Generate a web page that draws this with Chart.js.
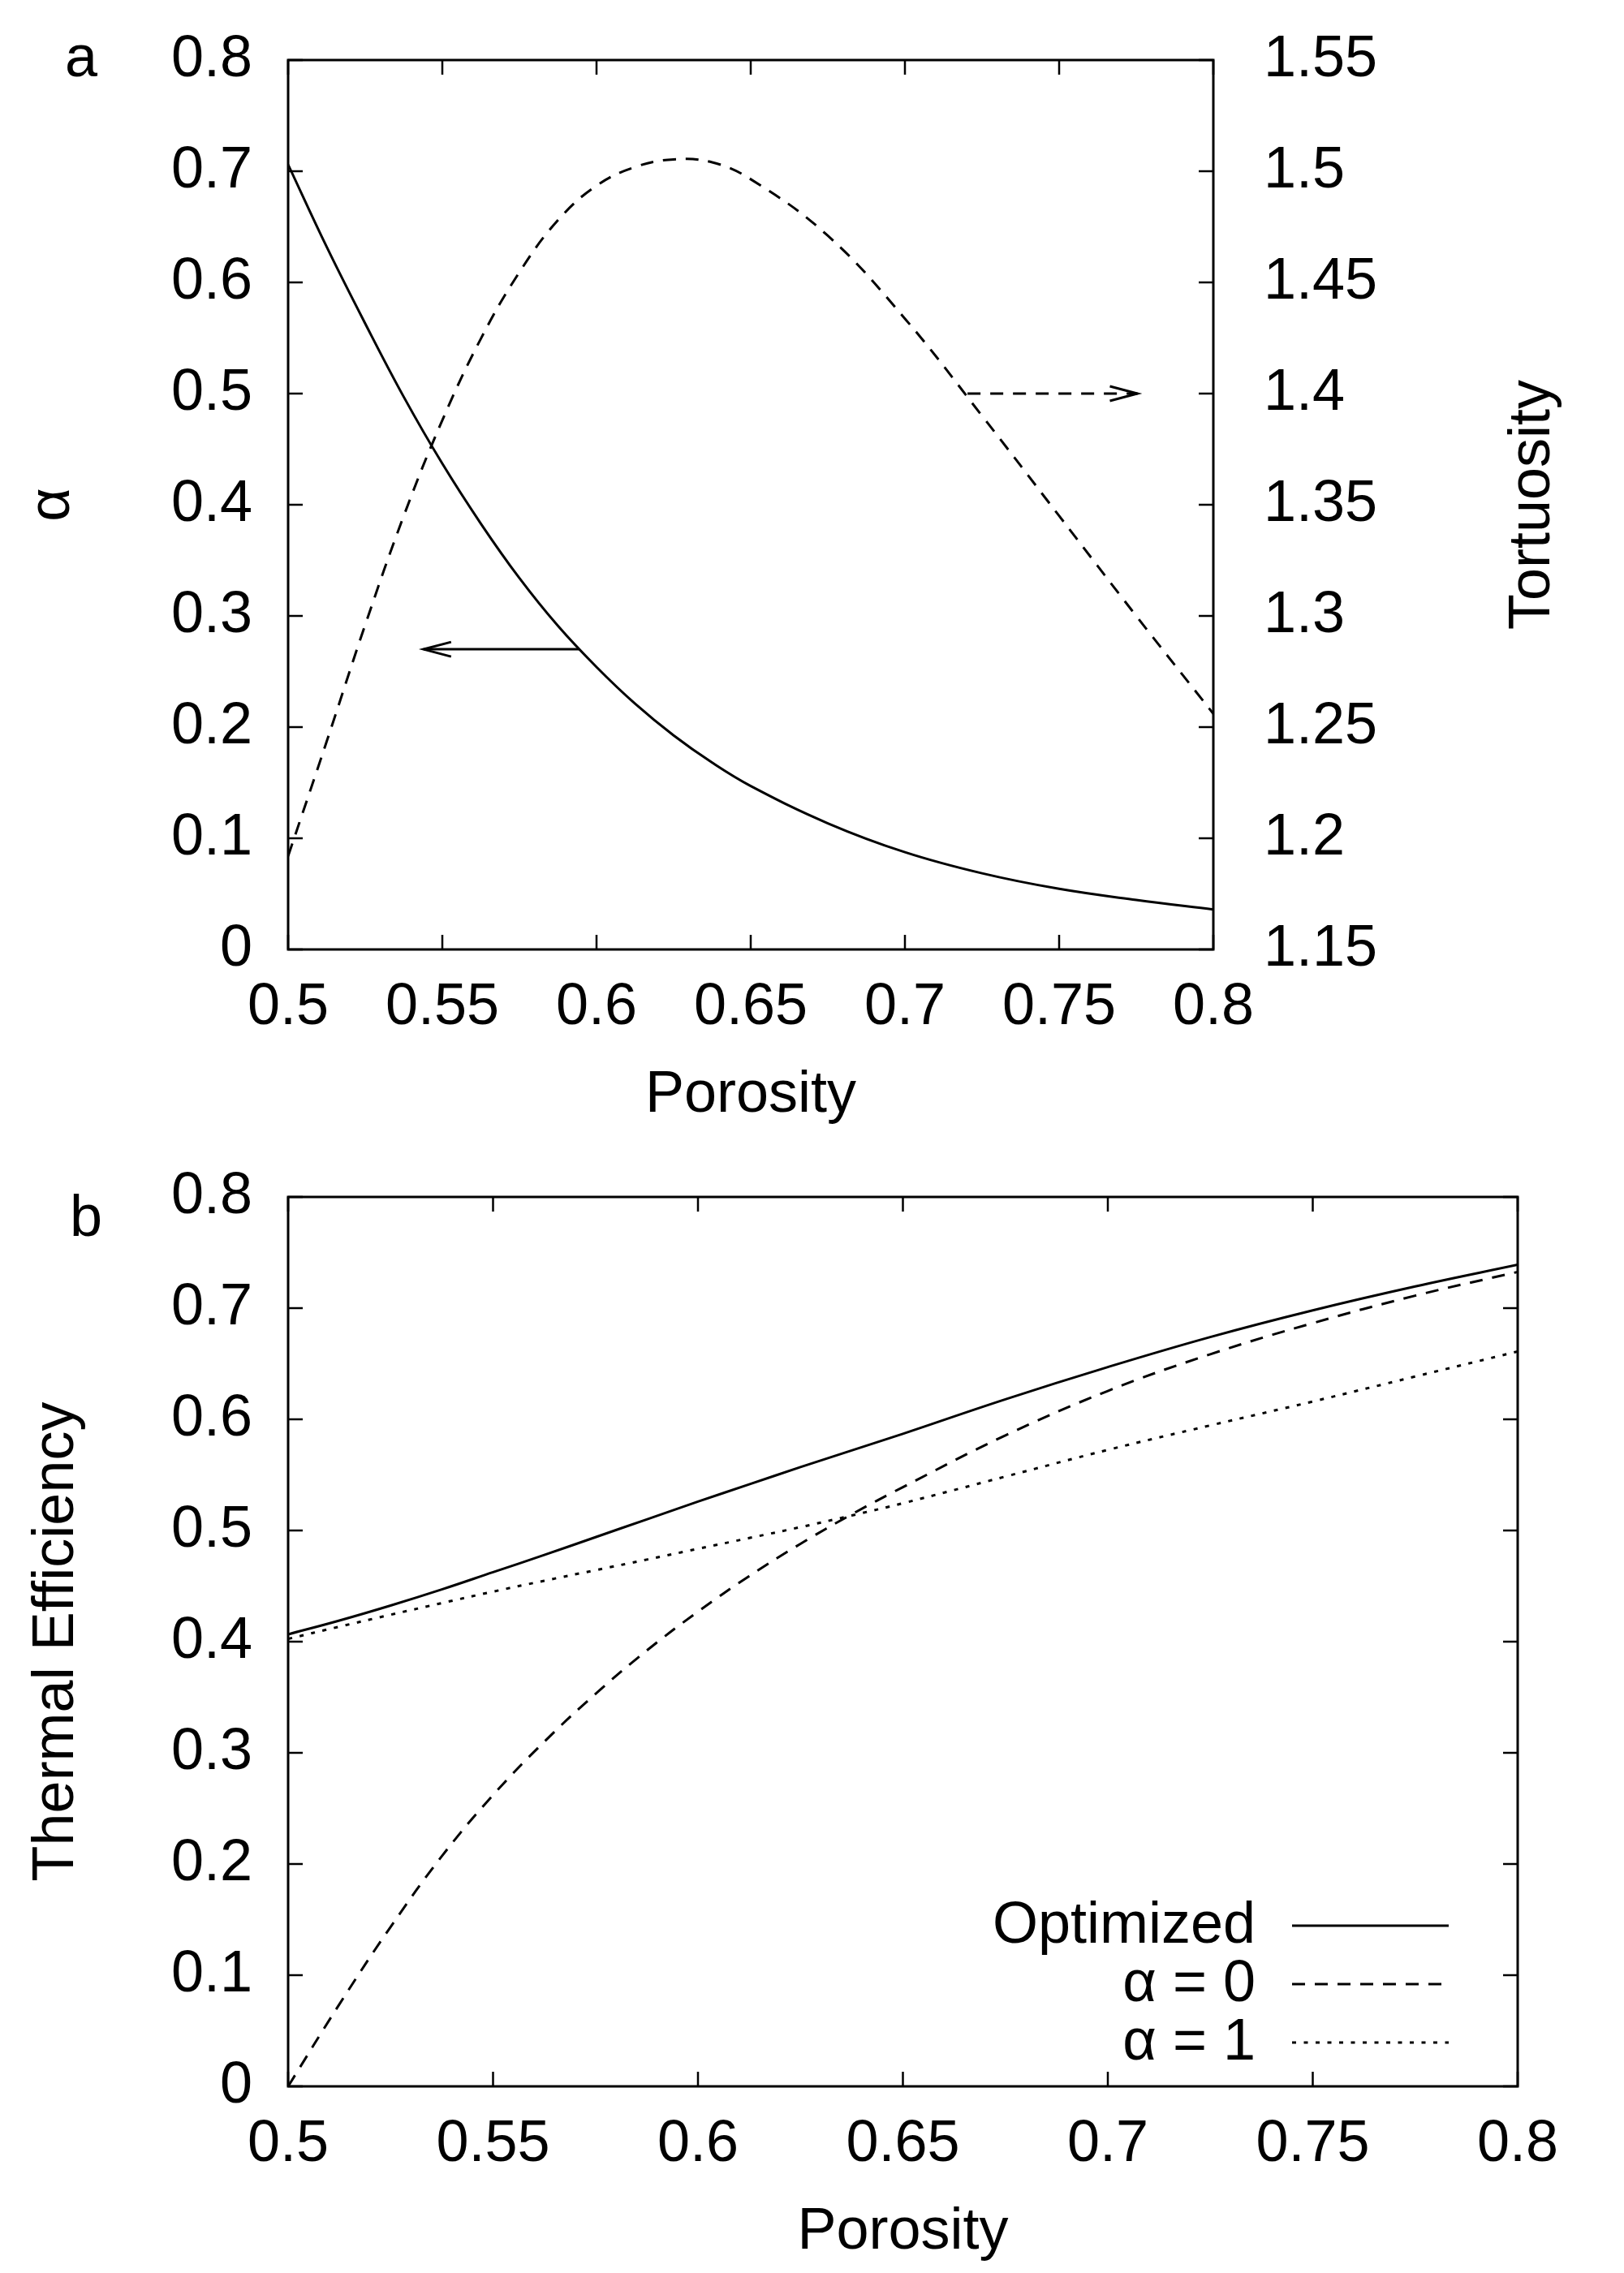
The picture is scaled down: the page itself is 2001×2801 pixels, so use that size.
<!DOCTYPE html>
<html><head><meta charset="utf-8">
<script src="https://cdn.jsdelivr.net/npm/chart.js@4.4.1/dist/chart.umd.min.js"></script>
<style>
html,body{margin:0;padding:0;background:#fff;}
#wrap{position:relative;width:2001px;height:2801px;background:#fff;overflow:hidden;}
canvas{position:absolute;left:0;}
</style></head><body>
<div id="wrap">
<canvas id="ca" width="2001" height="1400" style="top:0;width:2001px;height:1400px"></canvas>
<canvas id="cb" width="2001" height="1401" style="top:1400px;width:2001px;height:1401px"></canvas>
</div>
<script>
// ---------- data ----------
const porosity     = [0.5,0.5125,0.525,0.5375,0.55,0.5625,0.575,0.5875,0.6,0.6125,0.625,0.6375,0.65,0.675,0.7,0.725,0.75,0.775,0.8];
const alphaOpt     = [0.706,0.632,0.563,0.497,0.437,0.383,0.334,0.291,0.254,0.221,0.1925,0.168,0.147,0.1135,0.0875,0.0685,0.0545,0.0445,0.036];
const tortuosity   = [1.192,1.2435,1.296,1.345,1.388,1.4247,1.4546,1.478,1.4935,1.5019,1.5053,1.504,1.4964,1.471,1.4337,1.390,1.345,1.300,1.256];
const effOptimized = [0.4066,0.419,0.4325,0.447,0.4625,0.478,0.494,0.510,0.526,0.5415,0.557,0.572,0.587,0.618,0.647,0.674,0.698,0.7195,0.739];
const effAlpha0    = [0,0.0738,0.1434,0.207,0.262,0.310,0.353,0.392,0.427,0.459,0.488,0.5145,0.539,0.5855,0.6255,0.6585,0.6865,0.7112,0.7326];
const effAlpha1    = [0.4025,0.4135,0.4242,0.4347,0.445,0.4548,0.4643,0.4738,0.4835,0.4932,0.503,0.5135,0.5245,0.5485,0.5725,0.5945,0.616,0.6385,0.661];

const xTicks       = [0.5,0.55,0.6,0.65,0.7,0.75,0.8];
const xTickLabels  = ['0.5','0.55','0.6','0.65','0.7','0.75','0.8'];
const yTicks       = [0,0.1,0.2,0.3,0.4,0.5,0.6,0.7,0.8];
const yTickLabels  = ['0','0.1','0.2','0.3','0.4','0.5','0.6','0.7','0.8'];
const y2Ticks      = [1.15,1.2,1.25,1.3,1.35,1.4,1.45,1.5,1.55];
const y2TickLabels = ['1.15','1.2','1.25','1.3','1.35','1.4','1.45','1.5','1.55'];

const arrowAlpha   = [[0.5944,0.27],[0.5439,0.27]];   // on alpha axis
const arrowTort    = [[0.7203,1.4],[0.7754,1.4]];     // on tortuosity axis
const legendLabels = ['Optimized','α = 0','α = 1'];

// ---------- helpers ----------
const FAM = "'Liberation Sans', Arial, Helvetica, sans-serif";
const FONT = {family:FAM, size:72};
const pts = arr => porosity.map((p,i)=>({x:p,y:arr[i]}));
const fixedTicks = vals => scale => { scale.ticks = vals.map(v=>({value:v})); };
const noPad = s => { s.paddingTop = 0; s.paddingBottom = 0; s.paddingLeft = 0; s.paddingRight = 0; };

function xScale(){
  return {type:'linear', position:'bottom', min:0.5, max:0.8,
    afterBuildTicks: fixedTicks(xTicks),
    afterFit: s => { s.height = 230; noPad(s); },
    grid:{display:false, drawTicks:false}, border:{display:false},
    ticks:{font:FONT, color:'#000', padding:29, maxRotation:0, autoSkip:false,
           callback:(v,i)=>xTickLabels[i]},
    title:{display:true, text:'Porosity', font:FONT, color:'#000', padding:{top:0,bottom:7}}
  };
}
function yScale(title, pad){
  return {type:'linear', position:'left', min:0, max:0.8,
    afterBuildTicks: fixedTicks(yTicks),
    afterFit: s => { s.width = 355; noPad(s); },
    grid:{display:false, drawTicks:false}, border:{display:false},
    ticks:{font:FONT, color:'#000', padding:44, autoSkip:false,
           callback:(v,i)=>yTickLabels[i]},
    title:{display:true, text:title, font:FONT, color:'#000', padding:{top:pad,bottom:0}}
  };
}

const frameTicks = {
  id:'frameTicks',
  afterDatasetsDraw(chart){
    const {ctx, chartArea:a, scales} = chart;
    const L = 18;
    ctx.save();
    ctx.strokeStyle = '#000'; ctx.setLineDash([]); ctx.lineWidth = 2.5;
    ctx.beginPath();
    scales.x.ticks.forEach(t=>{
      const px = scales.x.getPixelForValue(t.value);
      ctx.moveTo(px,a.bottom); ctx.lineTo(px,a.bottom-L);
      ctx.moveTo(px,a.top); ctx.lineTo(px,a.top+L);
    });
    scales.y.ticks.forEach(t=>{
      const py = scales.y.getPixelForValue(t.value);
      ctx.moveTo(a.left,py); ctx.lineTo(a.left+L,py);
      if(!scales.y2){ ctx.moveTo(a.right,py); ctx.lineTo(a.right-L,py); }
    });
    if(scales.y2) scales.y2.ticks.forEach(t=>{
      const py = scales.y2.getPixelForValue(t.value);
      ctx.moveTo(a.right,py); ctx.lineTo(a.right-L,py);
    });
    ctx.stroke();
    ctx.lineWidth = 3;
    ctx.strokeRect(a.left,a.top,a.right-a.left,a.bottom-a.top);
    ctx.restore();
  }
};

function drawArrow(ctx, xs, ys, p, dash){
  const x1 = xs.getPixelForValue(p[0][0]), y1 = ys.getPixelForValue(p[0][1]);
  const x2 = xs.getPixelForValue(p[1][0]), y2 = ys.getPixelForValue(p[1][1]);
  ctx.save();
  ctx.strokeStyle = '#000'; ctx.lineWidth = 3;
  ctx.setLineDash(dash);
  ctx.beginPath(); ctx.moveTo(x1,y1); ctx.lineTo(x2,y2); ctx.stroke();
  ctx.setLineDash([]);
  const ang = Math.atan2(y2-y1, x2-x1), hl = 34, hw = 9;
  const bx = x2 - hl*Math.cos(ang), by = y2 - hl*Math.sin(ang);
  const nx = -Math.sin(ang)*hw, ny = Math.cos(ang)*hw;
  ctx.beginPath();
  ctx.moveTo(bx+nx,by+ny); ctx.lineTo(x2,y2); ctx.lineTo(bx-nx,by-ny);
  ctx.stroke();
  ctx.restore();
}

const extrasA = {
  id:'extrasA',
  afterDraw(chart){
    const {ctx, scales} = chart;
    drawArrow(ctx, scales.x, scales.y, arrowAlpha, []);
    drawArrow(ctx, scales.x, scales.y2, arrowTort, [16,12]);
    ctx.save();
    ctx.fillStyle = '#000';
    ctx.font = '72px ' + FAM;
    ctx.textAlign = 'left'; ctx.textBaseline = 'alphabetic';
    ctx.fillText('a', 80, 94);
    ctx.translate(1889, (chart.chartArea.top+chart.chartArea.bottom)/2);
    ctx.rotate(-Math.PI/2);
    ctx.textAlign = 'center'; ctx.textBaseline = 'middle';
    ctx.fillText('Tortuosity', 0, 0);
    ctx.restore();
  }
};

const extrasB = {
  id:'extrasB',
  afterDraw(chart){
    const {ctx, chartArea:a} = chart;
    ctx.save();
    ctx.fillStyle = '#000'; ctx.strokeStyle = '#000';
    ctx.font = '72px ' + FAM;
    ctx.textAlign = 'left'; ctx.textBaseline = 'alphabetic';
    ctx.fillText('b', 86, 123);
    ctx.textAlign = 'right'; ctx.textBaseline = 'middle';
    chart.data.datasets.forEach((ds,i)=>{
      const y = a.bottom - 54 - 72*(chart.data.datasets.length-1-i);
      ctx.fillText(legendLabels[i], a.right-323, y+1);
      ctx.lineWidth = ds.borderWidth;
      ctx.setLineDash(ds.borderDash || []);
      ctx.beginPath(); ctx.moveTo(a.right-278, y); ctx.lineTo(a.right-85, y); ctx.stroke();
    });
    ctx.restore();
  }
};

const common = {
  responsive:false, animation:false, devicePixelRatio:1, events:[],
  elements:{point:{radius:0}, line:{tension:0.4, cubicInterpolationMode:'default', borderCapStyle:'butt'}},
  plugins:{legend:{display:false}, tooltip:{enabled:false}}
};

// ---------- chart a ----------
new Chart(document.getElementById('ca'), {
  type:'line',
  data:{datasets:[
    {label:'alpha', data:pts(alphaOpt), yAxisID:'y', borderColor:'#000', borderWidth:3, fill:false},
    {label:'Tortuosity', data:pts(tortuosity), yAxisID:'y2', borderColor:'#000', borderWidth:3, borderDash:[16,12], fill:false}
  ]},
  options:Object.assign({}, common, {
    layout:{padding:{top:74,left:0,right:0,bottom:0}},
    scales:{
      x:xScale(),
      y:yScale('α', 22),
      y2:{type:'linear', position:'right', min:1.15, max:1.55,
        afterBuildTicks: fixedTicks(y2Ticks),
        afterFit: s => { s.width = 506; noPad(s); },
        grid:{display:false, drawTicks:false}, border:{display:false},
        ticks:{font:FONT, color:'#000', padding:62, autoSkip:false,
               callback:(v,i)=>y2TickLabels[i]}
      }
    }
  }),
  plugins:[frameTicks, extrasA]
});

// ---------- chart b ----------
new Chart(document.getElementById('cb'), {
  type:'line',
  data:{datasets:[
    {label:legendLabels[0], data:pts(effOptimized), borderColor:'#000', borderWidth:3, fill:false},
    {label:legendLabels[1], data:pts(effAlpha0), borderColor:'#000', borderWidth:3, borderDash:[16,12], fill:false},
    {label:legendLabels[2], data:pts(effAlpha1), borderColor:'#000', borderWidth:3, borderDash:[5,9.5], fill:false}
  ]},
  options:Object.assign({}, common, {
    layout:{padding:{top:75,left:0,right:131,bottom:0}},
    scales:{
      x:xScale(),
      y:yScale('Thermal Efficiency', 27)
    }
  }),
  plugins:[frameTicks, extrasB]
});
</script>
</body></html>
